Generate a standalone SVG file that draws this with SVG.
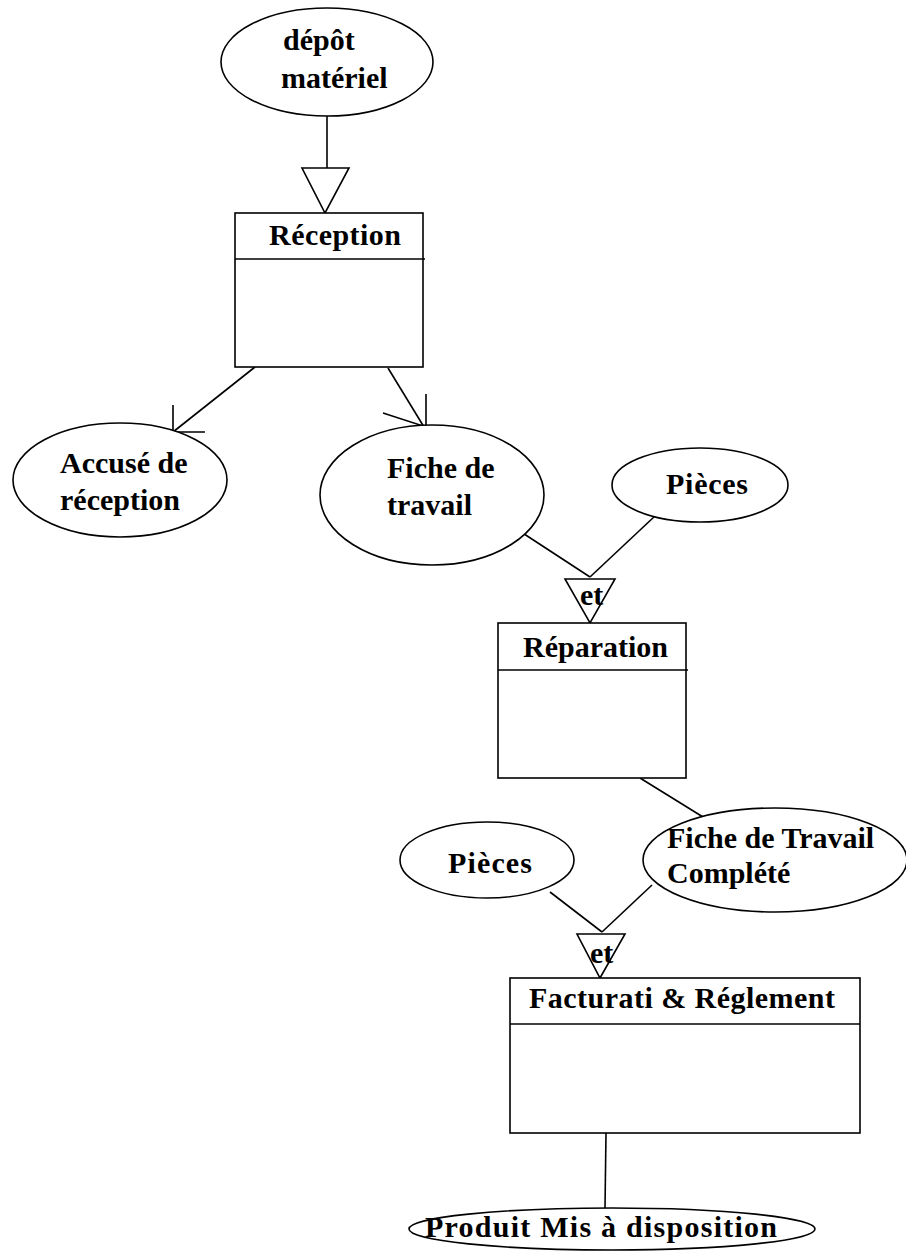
<svg xmlns="http://www.w3.org/2000/svg" width="906" height="1258" viewBox="0 0 906 1258">
<style>
.s{fill:none;stroke:#000;stroke-width:1.6}
.n{fill:#fff;stroke:#000;stroke-width:1.6}
text{font-family:"Liberation Serif","Times New Roman",serif;font-weight:bold;font-size:30px;fill:#000}
</style>
<rect width="906" height="1258" fill="#fff"/>
<g id="connectors">
<line class="s" x1="327" y1="115" x2="327" y2="168"/>
<polygon class="n" points="302,168 349,168 325,213"/>
<line class="s" x1="255" y1="367" x2="173" y2="432"/>
<polyline class="s" points="173,405 173,432 205,432"/>
<line class="s" x1="388" y1="368" x2="424" y2="427"/>
<polyline class="s" points="426,394 426,427 383,413"/>
<line class="s" x1="515" y1="528" x2="590" y2="577"/>
<line class="s" x1="655" y1="516" x2="590" y2="577"/>
<line class="s" x1="640" y1="778" x2="703" y2="817"/>
<line class="s" x1="550" y1="892" x2="602" y2="932"/>
<line class="s" x1="652" y1="885" x2="602" y2="932"/>
<line class="s" x1="606" y1="1133" x2="605" y2="1208"/>
</g>
<g id="depot">
<ellipse class="n" cx="327" cy="62" rx="106" ry="54"/>
<text x="283" y="50">dépôt</text>
<text x="281" y="88">matériel</text>
</g>
<g id="reception">
<rect class="n" x="235" y="213" width="188" height="154"/>
<line class="s" x1="235" y1="259" x2="425" y2="259"/>
<text x="269" y="245" textLength="132">Réception</text>
</g>
<g id="accuse">
<ellipse class="n" cx="120" cy="480" rx="107" ry="57"/>
<text x="60" y="473">Accusé de</text>
<text x="60" y="510">réception</text>
</g>
<g id="fiche">
<ellipse class="n" cx="432" cy="495" rx="112" ry="70"/>
<text x="387" y="478">Fiche de</text>
<text x="387" y="515">travail</text>
</g>
<g id="pieces1">
<ellipse class="n" cx="700" cy="485" rx="88" ry="37"/>
<text x="666" y="494" textLength="82">Pièces</text>
</g>
<g id="et1">
<polygon class="n" points="565,579 615,579 590,623"/>
<text x="580" y="605">et</text>
</g>
<g id="reparation">
<rect class="n" x="498" y="623" width="188" height="155"/>
<line class="s" x1="498" y1="670" x2="688" y2="670"/>
<text x="523" y="657" textLength="145">Réparation</text>
</g>
<g id="fiche-complete">
<ellipse class="n" cx="775" cy="860" rx="132" ry="52"/>
<text x="667" y="848">Fiche de Travail</text>
<text x="667" y="883">Complété</text>
</g>
<g id="pieces2">
<ellipse class="n" cx="487" cy="860" rx="87" ry="38"/>
<text x="448" y="873" textLength="84">Pièces</text>
</g>
<g id="et2">
<polygon class="n" points="577,934 625,934 600,978"/>
<text x="590" y="963">et</text>
</g>
<g id="facturation">
<rect class="n" x="510" y="978" width="350" height="155"/>
<line class="s" x1="510" y1="1024" x2="860" y2="1024"/>
<text x="529" y="1008" textLength="306">Facturati &amp; Réglement</text>
</g>
<g id="produit">
<ellipse class="n" cx="612" cy="1229" rx="203" ry="21"/>
<text x="425" y="1237" textLength="352">Produit Mis à disposition</text>
</g>
</svg>
